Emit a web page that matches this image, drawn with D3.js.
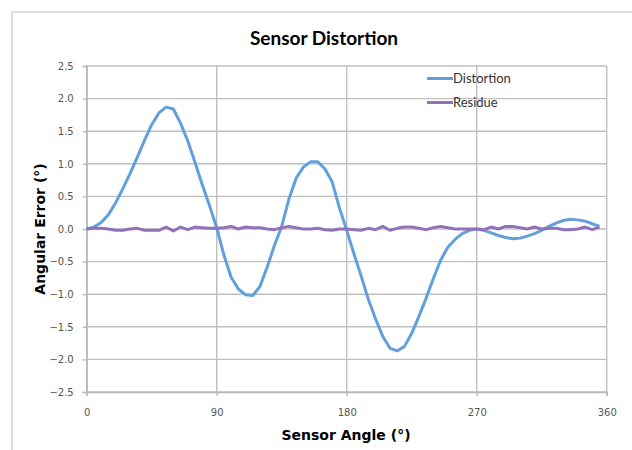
<!DOCTYPE html>
<html>
  <head>
    <meta charset="utf-8">
    <title>Sensor Distortion</title>
    <script src="https://d3js.org/d3.v7.min.js"></script>
    <style>
      body { margin: 0; background: #fff; }
      svg { display: block; }
    </style>
  </head>
  <body>
    <div id="chart"></div>
    <script>
      // data (5 degree steps)
      const angles = d3.range(0, 360, 5);
      const distortion = [
        0.00, 0.03, 0.10, 0.22, 0.40, 0.62, 0.85, 1.10, 1.36, 1.60,
        1.78, 1.87, 1.84, 1.62, 1.35, 1.02, 0.68, 0.36, 0.02, -0.40,
        -0.74, -0.92, -1.01, -1.02, -0.88, -0.58, -0.25, 0.04, 0.46, 0.78,
        0.95, 1.03, 1.03, 0.92, 0.72, 0.32, -0.02, -0.38, -0.72, -1.08,
        -1.38, -1.65, -1.83, -1.87, -1.80, -1.60, -1.34, -1.06, -0.76, -0.48,
        -0.28, -0.16, -0.07, -0.02, 0.00, -0.02, -0.06, -0.10, -0.13, -0.15,
        -0.14, -0.11, -0.07, -0.02, 0.04, 0.09, 0.13, 0.15, 0.14, 0.12,
        0.08, 0.04
      ];
      const residue = [
        0.00, 0.01, 0.01, 0.00, -0.02, -0.02, 0.00, 0.01, -0.02, -0.02,
        -0.02, 0.03, -0.03, 0.03, -0.01, 0.03, 0.02, 0.01, 0.01, 0.02,
        0.04, 0.00, 0.03, 0.02, 0.02, 0.00, -0.01, 0.02, 0.04, 0.02,
        0.00, 0.00, 0.01, -0.01, -0.02, 0.00, 0.00, -0.01, -0.02, 0.01,
        -0.01, 0.04, -0.02, 0.01, 0.03, 0.03, 0.01, -0.01, 0.02, 0.04,
        0.02, 0.00, 0.00, 0.00, 0.00, -0.01, 0.03, 0.00, 0.04, 0.04,
        0.02, 0.00, 0.03, 0.00, 0.01, 0.01, -0.01, -0.01, 0.00, 0.03,
        -0.01, 0.03
      ];
      const xTicks = [0, 90, 180, 270, 360];
      const yTicks = [-2.5, -2, -1.5, -1, -0.5, 0, 0.5, 1, 1.5, 2, 2.5];
      const seriesNames = ["Distortion", "Residue"];
      const colors = ["#62a0dc", "#9371b8"];

      const width = 632, height = 450;
      const x = d3.scaleLinear().domain([0, 360]).range([86.7, 606.7]);
      const y = d3.scaleLinear().domain([-2.5, 2.5]).range([392, 66]);

      const svg = d3.select("#chart").append("svg")
        .attr("width", width)
        .attr("height", height);

      // outer chart frame
      svg.append("rect")
        .attr("x", 12).attr("y", 12)
        .attr("width", 660).attr("height", 480)
        .attr("fill", "none")
        .attr("stroke", "#c8c8c8")
        .attr("stroke-width", 1.2);

      // gridlines
      const grid = svg.append("g").attr("stroke", "#bfbfbf").attr("stroke-width", 1.4);
      grid.selectAll(".hgrid").data(yTicks).enter().append("line")
        .attr("x1", x(0)).attr("x2", x(360))
        .attr("y1", d => y(d)).attr("y2", d => y(d));
      grid.selectAll(".vgrid").data(xTicks).enter().append("line")
        .attr("x1", d => x(d)).attr("x2", d => x(d))
        .attr("y1", y(2.5)).attr("y2", y(-2.5));

      // axes
      const yAxis = svg.append("g")
        .attr("transform", `translate(${x(0)},0)`)
        .call(d3.axisLeft(y).tickValues(yTicks).tickSize(4).tickPadding(9)
          .tickFormat(d3.format(".1f")));
      const xAxis = svg.append("g")
        .attr("transform", `translate(0,${y(-2.5)})`)
        .call(d3.axisBottom(x).tickValues(xTicks).tickSize(4).tickPadding(13));
      [xAxis, yAxis].forEach(function(a) {
        a.select(".domain").attr("stroke", "#b8b8b8").attr("stroke-width", 1.4);
        a.selectAll(".tick line").attr("stroke", "#b8b8b8").attr("stroke-width", 1.4);
        a.selectAll(".tick text")
          .attr("fill", "#555")
          .style("font-family", "'DejaVu Sans', Verdana, sans-serif")
          .style("font-size", "10px");
      });

      // series lines
      const line = d3.line()
        .x((d, i) => x(angles[i]))
        .y(d => y(d));
      [distortion, residue].forEach(function(vals, i) {
        svg.append("path")
          .datum(vals)
          .attr("fill", "none")
          .attr("stroke", colors[i])
          .attr("stroke-width", 3)
          .attr("stroke-linejoin", "round")
          .attr("d", line);
      });

      // legend
      const legend = svg.selectAll(".legend")
        .data(seriesNames)
        .enter().append("g")
          .attr("transform", (d, i) => `translate(427,${78.5 + i * 24})`);
      legend.append("line")
        .attr("x1", 0).attr("x2", 26)
        .attr("stroke", (d, i) => colors[i])
        .attr("stroke-width", 3);
      legend.append("text")
        .attr("x", 26).attr("y", 4.5)
        .attr("fill", "#333")
        .style("font-family", "Lato, sans-serif")
        .style("font-size", "13px")
        .text(d => d);

      // titles
      svg.append("text")
        .attr("x", 324).attr("y", 45)
        .attr("text-anchor", "middle")
        .style("font-family", "Lato, sans-serif")
        .style("font-weight", "bold")
        .style("font-size", "19px")
        .text("Sensor Distortion");
      svg.append("text")
        .attr("x", 346).attr("y", 440)
        .attr("text-anchor", "middle")
        .style("font-family", "'DejaVu Sans', Verdana, sans-serif")
        .style("font-weight", "bold")
        .style("font-size", "14px")
        .text("Sensor Angle (°)");
      svg.append("text")
        .attr("transform", "translate(45,229) rotate(-90)")
        .attr("text-anchor", "middle")
        .style("font-family", "'DejaVu Sans', Verdana, sans-serif")
        .style("font-weight", "bold")
        .style("font-size", "14px")
        .text("Angular Error (°)");
    </script>
  </body>
</html>
